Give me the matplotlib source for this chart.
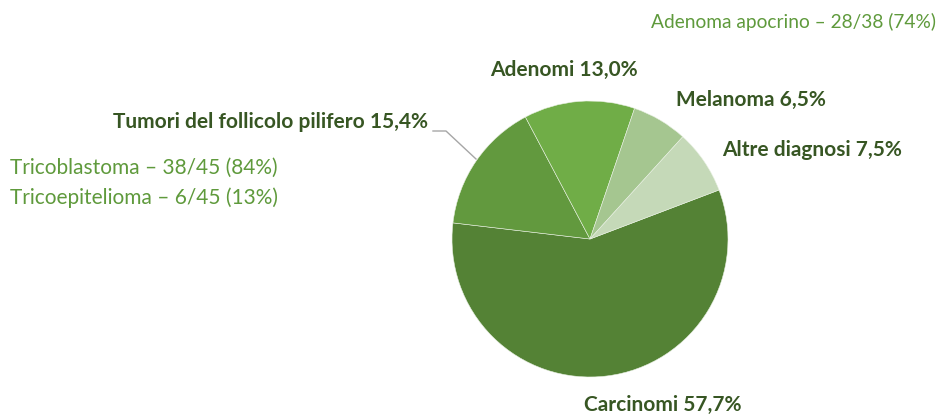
import matplotlib
matplotlib.use("Agg")
import matplotlib.pyplot as plt

categories = ["Carcinomi", "Tumori del follicolo pilifero", "Adenomi", "Melanoma", "Altre diagnosi"]
values = [57.7, 15.4, 13.0, 6.5, 7.5]
value_labels = ["57,7%", "15,4%", "13,0%", "6,5%", "7,5%"]
colors = ["#548235", "#62993e", "#70ad47", "#a5c690", "#c5d9b8"]
sub_follicolo = ["Tricoblastoma – 38/45 (84%)", "Tricoepitelioma – 6/45 (13%)"]
sub_adenomi = ["Adenoma apocrino – 28/38 (74%)"]

W, H = 943, 416
fig = plt.figure(figsize=(W / 100, H / 100), dpi=100)
plt.rcParams['font.family'] = ['Lato', 'DejaVu Sans']

cx, cy, r = 590, 239, 138
ax = fig.add_axes([(cx - r) / W, (H - cy - r) / H, 2 * r / W, 2 * r / H])
ax.pie(values, colors=colors, startangle=20.8, counterclock=False, radius=1,
       wedgeprops=dict(linewidth=0.4, edgecolor="#e8f0e2"))
ax.set_xlim(-1, 1)
ax.set_ylim(-1, 1)
ax.axis("off")

def fx(x):
    return x / W

def fy(y):
    return 1 - y / H

dark = "#375623"
light = "#5f9a3c"
bold_fs = 15

# label positions in pixels (anchor x, center y, alignment)
label_pos = [(663, 405, "center"), (428, 122, "right"), (564, 70, "center"),
             (751, 100, "center"), (812, 150, "center")]
for cat, vl, (x, y, ha) in zip(categories, value_labels, label_pos):
    fig.text(fx(x), fy(y), f"{cat} {vl}", ha=ha, va="center", fontsize=bold_fs,
             fontweight="bold", color=dark)

# leader line for Tumori
fig.add_artist(plt.Line2D([fx(433), fx(446), fx(476)], [fy(131), fy(131), fy(159)],
                          color="#a6a6a6", linewidth=1.0))

sub_fs = 15
for i, s in enumerate(sub_follicolo):
    fig.text(fx(10), fy(168 + 30 * i), s, ha="left", va="center", fontsize=sub_fs, color=light)
for s in sub_adenomi:
    fig.text(fx(936), fy(22), s, ha="right", va="center", fontsize=13.8, color=light)

fig.savefig("out.png", dpi=100, facecolor="white")
